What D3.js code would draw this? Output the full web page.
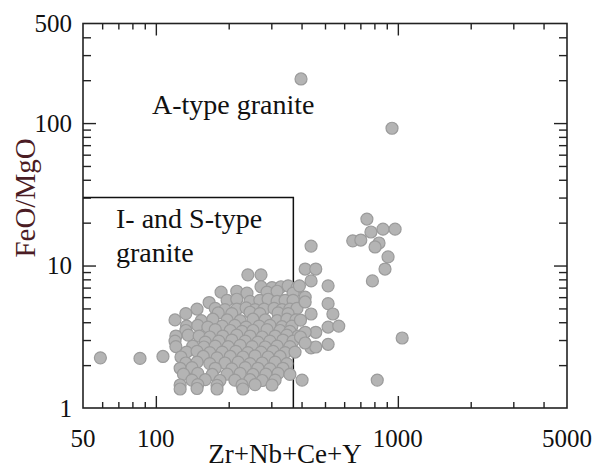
<!DOCTYPE html>
<html>
<head>
<meta charset="utf-8">
<script src="https://cdn.jsdelivr.net/npm/d3@7"></script>
<style>
  body { margin: 0; background: #fff; }
  svg text { font-family: 'Liberation Serif', 'Times New Roman', serif; }
</style>
</head>
<body>
<svg id="chart" width="600" height="470"></svg>
<script>
// Zr+Nb+Ce+Y (ppm) vs FeO/MgO
const xLabels = [50, 100, 1000, 5000]
const yLabels = [1, 10, 100, 500]
const fieldLimit = [370, 30]   // I- and S-type field: Zr+Nb+Ce+Y < 370, FeO/MgO < 30

const mainCluster = [
  [240, 8.6], [272, 8.6],
  [272, 7.1], [302, 7.0], [329, 7.1], [352, 7.2], [383, 7.0],
  [186, 6.5], [216, 6.6], [238, 6.4], [288, 6.5], [317, 6.6], [369, 6.4],
  [197, 5.7], [216, 5.8], [245, 5.6], [269, 5.7], [291, 5.8], [317, 5.6], [342, 5.7], [369, 5.7],
  [166, 5.5],
  [148, 4.95], [176, 5.0], [193, 4.9], [216, 4.95], [236, 5.05], [257, 4.9], [280, 4.95], [308, 5.0], [332, 4.9], [358, 4.95], [383, 5.0],
  [133, 4.6], [181, 4.65], [206, 4.6], [245, 4.7], [269, 4.6], [320, 4.65], [352, 4.6],
  [120, 4.15], [154, 4.1], [172, 4.2], [197, 4.15], [223, 4.1], [252, 4.2], [283, 4.15], [317, 4.1], [348, 4.2], [379, 4.15],
  [134, 3.76], [149, 3.8], [164, 3.7], [188, 3.76], [212, 3.8], [236, 3.7], [267, 3.76], [296, 3.8], [332, 3.72], [365, 3.76],
  [133, 3.5], [176, 3.55], [203, 3.5], [227, 3.45], [252, 3.5], [288, 3.55], [326, 3.5], [358, 3.45],
  [121, 3.2], [136, 3.25], [151, 3.2], [167, 3.15], [189, 3.2], [216, 3.25], [245, 3.2], [275, 3.15], [311, 3.2], [348, 3.25], [387, 3.2],
  [120, 2.95], [160, 2.9], [182, 2.95], [206, 3.0], [234, 2.95], [264, 2.9], [296, 2.95], [335, 3.0], [369, 2.95],
  [121, 2.7], [142, 2.72], [158, 2.68], [176, 2.72], [199, 2.7], [223, 2.75], [250, 2.7], [283, 2.68], [317, 2.72], [358, 2.7],
  [134, 2.47], [148, 2.5], [167, 2.45], [188, 2.47], [214, 2.5], [240, 2.45], [272, 2.47], [305, 2.5], [342, 2.45], [376, 2.47],
  [107, 2.3], [127, 2.28], [157, 2.3], [179, 2.25], [203, 2.3], [229, 2.28], [257, 2.32], [291, 2.28], [326, 2.3],
  [133, 2.07], [148, 2.1], [167, 2.05], [193, 2.07], [219, 2.1], [245, 2.05], [275, 2.07], [311, 2.1], [348, 2.05],
  [126, 1.9], [141, 1.92], [176, 1.9], [206, 1.88], [234, 1.92], [264, 1.9], [296, 1.88], [335, 1.9],
  [130, 1.73], [149, 1.75], [171, 1.72], [197, 1.73], [223, 1.75], [252, 1.72], [285, 1.73], [320, 1.75], [358, 1.72],
  [141, 1.57], [160, 1.58], [184, 1.56], [212, 1.57], [245, 1.58], [275, 1.56], [311, 1.57],
  [126, 1.45], [149, 1.46], [179, 1.44], [227, 1.45], [257, 1.46], [302, 1.45],
  [126, 1.36], [148, 1.37], [179, 1.36], [229, 1.36],
  [59, 2.25], [86, 2.23]
]

const rightGroup = [
  [438, 13.7], [414, 9.45], [458, 9.45], [438, 7.8], [515, 7.2], [392, 7.2],
  [414, 6.0], [414, 5.55], [515, 5.4], [539, 4.57], [438, 4.57], [396, 4.14],
  [515, 3.7], [570, 3.76], [458, 3.4], [414, 3.4], [396, 3.15],
  [515, 2.8], [438, 2.64], [458, 2.68], [414, 2.86], [402, 1.57]
]

const highGroup = [
  [745, 21.2], [651, 14.9], [703, 15.1], [774, 17.2], [868, 18.0], [974, 18.0],
  [836, 14.4], [805, 13.5], [911, 11.5], [885, 9.45], [785, 7.8],
  [1042, 3.1], [822, 1.57]
]

const outliers = [[398, 204], [946, 92]]

const points = mainCluster.concat(rightGroup, highGroup, outliers)

const svg = d3.select('#chart')

const plotLeft = 83, plotRight = 567, plotTop = 23.5, plotBottom = 408

const x = d3.scaleLog().domain([50, 5000]).range([plotLeft, plotRight])
const y = d3.scaleLog().domain([1, 500]).range([plotBottom, plotTop])

const isMajor = v => Math.abs(Math.log10(v) - Math.round(Math.log10(v))) < 1e-9

const xMinor = x.ticks().filter(v => !isMajor(v) && v > 50 && v < 5000)
const xMajor = x.ticks().filter(v => isMajor(v))
const yMinor = y.ticks().filter(v => !isMajor(v) && v > 1 && v < 500)
const yMajor = y.ticks().filter(v => isMajor(v) && v > 1)

function tickAxis (axisFn, scale, values, len, pos, horizontal) {
  const g = svg.append('g')
    .attr('transform', horizontal ? `translate(0,${pos})` : `translate(${pos},0)`)
    .call(axisFn(scale).tickValues(values).tickSize(-len).tickFormat(''))
  g.select('.domain').remove()
  g.selectAll('line').attr('stroke', '#222').attr('stroke-width', 1.4)
}

tickAxis(d3.axisBottom, x, xMinor, 6, plotBottom, true)
tickAxis(d3.axisBottom, x, xMajor, 12, plotBottom, true)
tickAxis(d3.axisTop, x, xMinor, 6, plotTop, true)
tickAxis(d3.axisTop, x, xMajor, 12, plotTop, true)
tickAxis(d3.axisLeft, y, yMinor, 8, plotLeft, false)
tickAxis(d3.axisLeft, y, yMajor, 13, plotLeft, false)
tickAxis(d3.axisRight, y, yMinor, 8, plotRight, false)
tickAxis(d3.axisRight, y, yMajor, 13, plotRight, false)

// I- and S-type field outline
svg.append('path')
  .attr('d', `M${plotLeft},${y(fieldLimit[1])}H${x(fieldLimit[0])}V${plotBottom}`)
  .attr('fill', 'none')
  .attr('stroke', '#111')
  .attr('stroke-width', 1.5)

svg.append('g').selectAll('circle')
  .data(points)
  .enter().append('circle')
    .attr('cx', d => x(d[0]))
    .attr('cy', d => y(d[1]))
    .attr('r', 6)
    .attr('fill', '#b4b4b4')
    .attr('stroke', '#9b9b9b')
    .attr('stroke-width', 1.2)

// frame
svg.append('rect')
  .attr('x', plotLeft).attr('y', plotTop)
  .attr('width', plotRight - plotLeft).attr('height', plotBottom - plotTop)
  .attr('fill', 'none')
  .attr('stroke', '#222')
  .attr('stroke-width', 1.6)

svg.append('g').selectAll('text')
  .data(xLabels)
  .enter().append('text')
    .attr('x', d => x(d))
    .attr('y', 447)
    .attr('text-anchor', 'middle')
    .attr('font-size', 25)
    .attr('fill', '#111')
    .text(d => d)

svg.append('g').selectAll('text')
  .data(yLabels)
  .enter().append('text')
    .attr('x', 72)
    .attr('y', d => y(d))
    .attr('dy', '0.34em')
    .attr('text-anchor', 'end')
    .attr('font-size', 25)
    .attr('fill', '#111')
    .text(d => d)

svg.append('text')
  .attr('x', 152).attr('y', 114)
  .attr('font-size', 28)
  .attr('fill', '#111')
  .text('A-type granite')

svg.append('text')
  .attr('x', 116).attr('y', 228)
  .attr('font-size', 28)
  .attr('fill', '#111')
  .text('I- and S-type')

svg.append('text')
  .attr('x', 116).attr('y', 262)
  .attr('font-size', 28)
  .attr('fill', '#111')
  .text('granite')

svg.append('text')
  .attr('transform', 'translate(35,198) rotate(-90)')
  .attr('text-anchor', 'middle')
  .attr('font-size', 29)
  .attr('fill', '#4b1c24')
  .text('FeO/MgO')

svg.append('text')
  .attr('x', 285).attr('y', 463)
  .attr('text-anchor', 'middle')
  .attr('font-size', 27)
  .attr('fill', '#111')
  .text('Zr+Nb+Ce+Y')
</script>
</body>
</html>
